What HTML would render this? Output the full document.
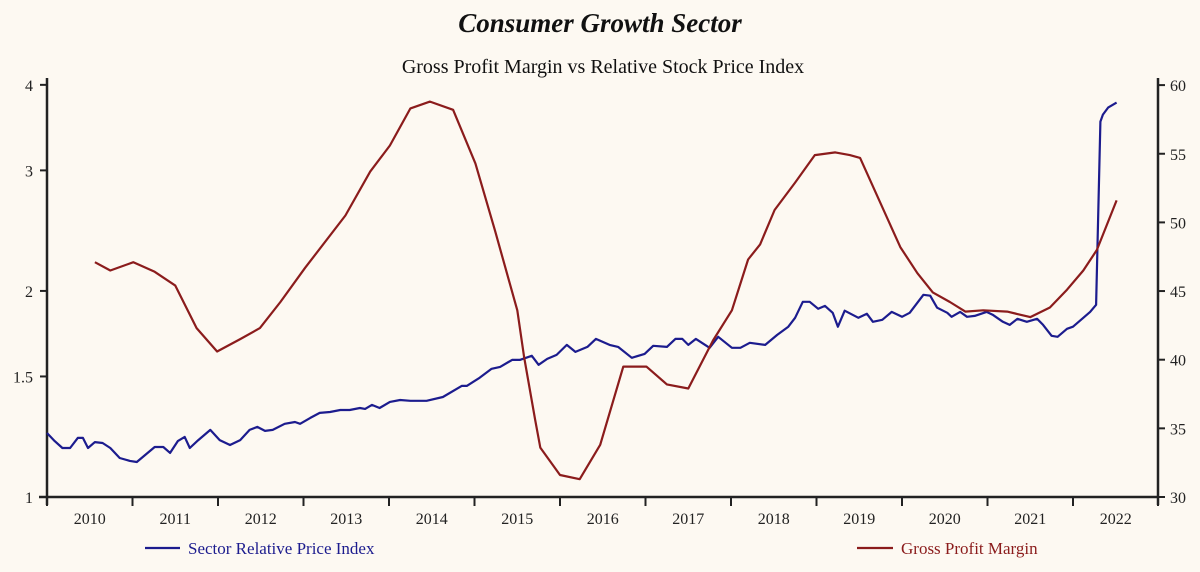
<!DOCTYPE html>
<html><head><meta charset="utf-8"><style>
html,body{margin:0;padding:0;background:#fdf9f2;}
svg{display:block;font-family:"Liberation Serif",serif;}
</style></head><body>
<svg id="chart" width="1200" height="572" viewBox="0 0 1200 572">
<rect width="1200" height="572" fill="#fdf9f2"/>
<text x="600" y="32" text-anchor="middle" font-size="27" font-weight="bold" font-style="italic" fill="#111">Consumer Growth Sector</text>
<text x="603" y="73" text-anchor="middle" font-size="20" fill="#111">Gross Profit Margin vs Relative Stock Price Index</text>
<g id="axes"></g>
<g id="series"></g>
<line x1="145" y1="548" x2="180" y2="548" stroke="#1c1c8e" stroke-width="2.2"/>
<text x="188" y="554" font-size="17" fill="#1c1c8e">Sector Relative Price Index</text>
<line x1="857" y1="548" x2="893" y2="548" stroke="#8b1c1c" stroke-width="2.2"/>
<text x="901" y="554" font-size="17" fill="#8b1c1c">Gross Profit Margin</text>
</svg>
<script>
const years=[2010,2011,2012,2013,2014,2015,2016,2017,2018,2019,2020,2021,2022];
const leftTicks=[1,1.5,2,3,4];
const rightTicks=[30,35,40,45,50,55,60];
const priceDates=[2010.00,2010.09,2010.18,2010.27,2010.36,2010.42,2010.48,2010.56,2010.65,2010.74,2010.85,2010.97,2011.05,2011.15,2011.26,2011.36,2011.44,2011.53,2011.61,2011.67,2011.77,2011.91,2012.02,2012.14,2012.26,2012.37,2012.46,2012.55,2012.64,2012.78,2012.90,2012.96,2013.08,2013.19,2013.31,2013.43,2013.54,2013.66,2013.72,2013.80,2013.89,2014.01,2014.13,2014.25,2014.44,2014.63,2014.85,2014.91,2015.06,2015.20,2015.30,2015.44,2015.53,2015.67,2015.75,2015.85,2015.96,2016.08,2016.18,2016.32,2016.42,2016.58,2016.68,2016.84,2016.99,2017.09,2017.25,2017.35,2017.43,2017.50,2017.59,2017.75,2017.85,2018.01,2018.11,2018.22,2018.40,2018.54,2018.67,2018.75,2018.84,2018.92,2019.02,2019.10,2019.19,2019.25,2019.33,2019.49,2019.59,2019.66,2019.77,2019.88,2020.00,2020.09,2020.25,2020.33,2020.41,2020.53,2020.58,2020.68,2020.76,2020.85,2020.99,2021.06,2021.18,2021.26,2021.35,2021.46,2021.58,2021.65,2021.75,2021.82,2021.93,2022.00,2022.12,2022.20,2022.27,2022.32,2022.35,2022.41,2022.51];
const priceValues=[1.240,1.207,1.179,1.179,1.220,1.220,1.179,1.203,1.199,1.179,1.140,1.129,1.125,1.152,1.183,1.183,1.160,1.207,1.224,1.179,1.211,1.253,1.211,1.191,1.211,1.253,1.266,1.249,1.253,1.279,1.287,1.279,1.305,1.327,1.331,1.340,1.340,1.349,1.345,1.363,1.349,1.377,1.386,1.382,1.382,1.400,1.453,1.453,1.493,1.539,1.549,1.586,1.586,1.608,1.560,1.591,1.613,1.668,1.629,1.657,1.702,1.668,1.657,1.597,1.618,1.663,1.657,1.702,1.702,1.668,1.702,1.652,1.714,1.652,1.652,1.680,1.668,1.725,1.773,1.827,1.928,1.928,1.883,1.902,1.858,1.773,1.871,1.827,1.852,1.803,1.815,1.864,1.833,1.858,1.974,1.968,1.890,1.858,1.833,1.864,1.833,1.839,1.864,1.846,1.803,1.784,1.821,1.803,1.821,1.784,1.720,1.714,1.761,1.773,1.827,1.864,1.909,3.535,3.619,3.705,3.768];
const marginDates=[2010.56,2010.74,2011.01,2011.26,2011.50,2011.75,2011.99,2012.26,2012.49,2012.73,2013.02,2013.49,2013.78,2014.01,2014.25,2014.48,2014.75,2015.01,2015.24,2015.50,2015.58,2015.71,2015.77,2016.00,2016.23,2016.47,2016.74,2017.01,2017.25,2017.50,2017.79,2018.01,2018.20,2018.34,2018.51,2018.75,2018.98,2019.22,2019.39,2019.51,2019.98,2020.18,2020.36,2020.56,2020.74,2020.95,2021.23,2021.50,2021.73,2021.93,2022.12,2022.28,2022.51];
const marginValues=[47.1,46.5,47.1,46.4,45.4,42.3,40.6,41.5,42.3,44.2,46.7,50.5,53.7,55.6,58.3,58.8,58.2,54.3,49.4,43.6,40.2,35.6,33.6,31.6,31.3,33.8,39.5,39.5,38.2,37.9,41.4,43.6,47.3,48.4,50.9,52.9,54.9,55.1,54.9,54.7,48.2,46.3,44.9,44.2,43.5,43.6,43.5,43.1,43.8,45.1,46.5,48.0,51.6];

const NS="http://www.w3.org/2000/svg";
const X0=47,X1=1158,YB=497,PXY=85.5;
const xScale=t=>X0+(t-2010)*PXY;
const yLeft=v=>YB-Math.log(v)*297.3;
const yRight=v=>YB-(v-30)*13.73;
function mk(tag,attrs,parent){const e=document.createElementNS(NS,tag);for(const k in attrs)e.setAttribute(k,attrs[k]);parent.appendChild(e);return e;}
const axes=document.getElementById('axes');
const ser=document.getElementById('series');

let a=mk('line',{x1:X0,y1:78,x2:X0,y2:YB+8,stroke:'#222','stroke-width':2.5},axes);


a=mk('line',{x1:X1,y1:78,x2:X1,y2:YB+8,stroke:'#222','stroke-width':2.5},axes);


a=mk('line',{x1:X0-8,y1:YB,x2:X1,y2:YB,stroke:'#222','stroke-width':2.5},axes);



leftTicks.forEach(v=>{const y=yLeft(v);
 let t=mk('line',{x1:X0-7,y1:y,x2:X0,y2:y,stroke:'#222','stroke-width':2},axes);
 
 
 let l=mk('text',{x:33,y:y+6,'text-anchor':'end','font-size':16,fill:'#222'},axes);l.textContent=v;
 
 });
rightTicks.forEach(v=>{const y=yRight(v);
 let t=mk('line',{x1:X1,y1:y,x2:X1+7,y2:y,stroke:'#222','stroke-width':2},axes);
 
 
 let l=mk('text',{x:1170,y:y+6,'font-size':16,fill:'#222'},axes);l.textContent=v;
 
 });
years.forEach(yr=>{const x=xScale(yr);
 let t=mk('line',{x1:x,y1:YB,x2:x,y2:YB+9,stroke:'#222','stroke-width':2},axes);
 
 
 let l=mk('text',{x:xScale(yr+0.5),y:YB+27,'text-anchor':'middle','font-size':16,fill:'#222'},axes);l.textContent=yr;
 
 });
let tEnd=mk('line',{x1:X1,y1:YB,x2:X1,y2:YB+9,stroke:'#222','stroke-width':2},axes);



const pricePts=priceDates.map((d,i)=>xScale(d).toFixed(1)+','+yLeft(priceValues[i]).toFixed(1)).join(' ');
let p1=mk('polyline',{points:pricePts,fill:'none',stroke:'#1c1c8e','stroke-width':2.2,'stroke-linejoin':'round'},ser);


const marginPts=marginDates.map((d,i)=>xScale(d).toFixed(1)+','+yRight(marginValues[i]).toFixed(1)).join(' ');
let p2=mk('polyline',{points:marginPts,fill:'none',stroke:'#8b1c1c','stroke-width':2.2,'stroke-linejoin':'round'},ser);


</script>
</body></html>
